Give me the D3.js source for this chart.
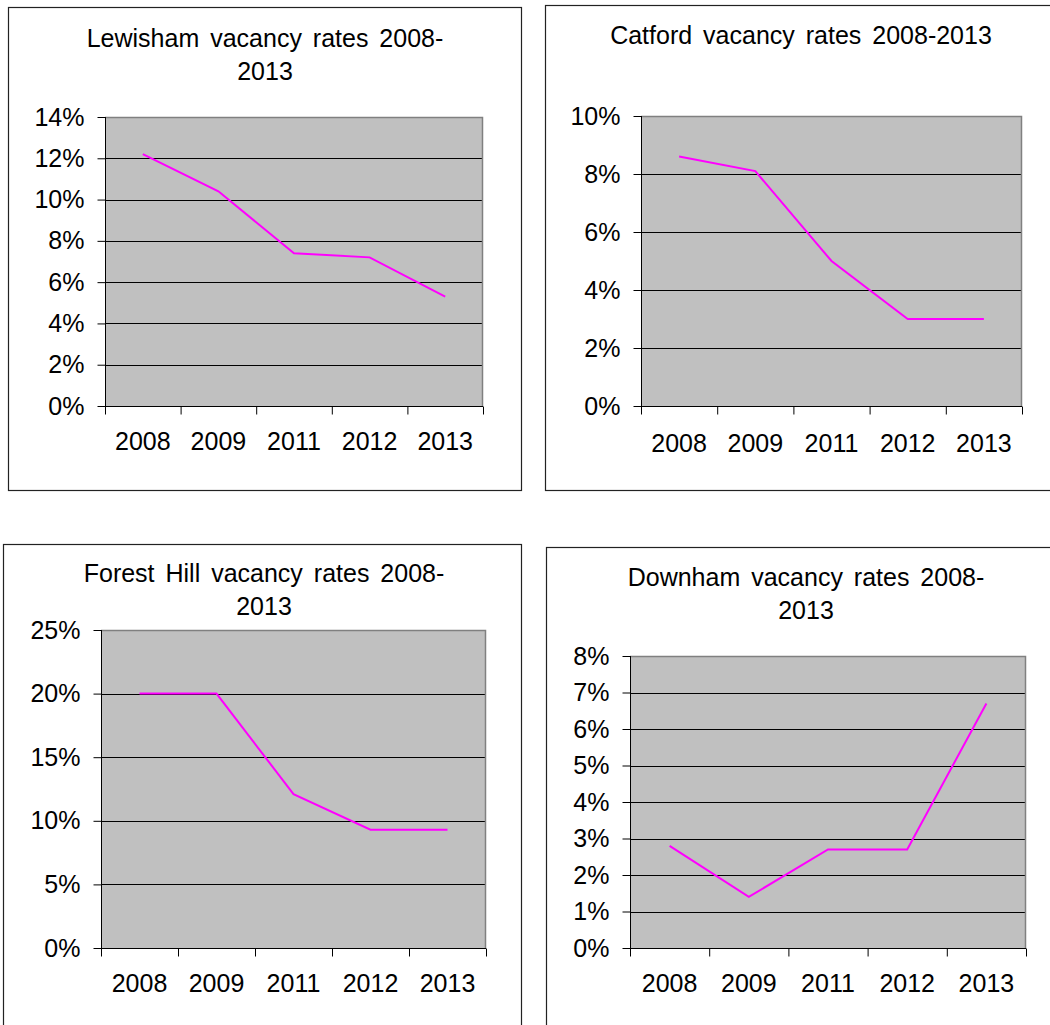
<!DOCTYPE html>
<html>
<head>
<meta charset="utf-8">
<script src="https://cdn.jsdelivr.net/npm/d3@7"></script>
<style>
  body { margin: 0; background: #fff; }
  svg { display: block; font-family: "Liberation Sans", Arial, sans-serif; }
</style>
</head>
<body>
<svg id="chart" width="1050" height="1025"></svg>
<script>
// data
const years = ['2008', '2009', '2011', '2012', '2013'];
const lewisham = [0.122, 0.104, 0.074, 0.072, 0.053];
const catford = [0.086, 0.081, 0.050, 0.030, 0.030];
const forestHill = [0.200, 0.200, 0.121, 0.093, 0.093];
const downham = [0.028, 0.014, 0.027, 0.027, 0.067];

const lewishamTicks = [0, 0.02, 0.04, 0.06, 0.08, 0.10, 0.12, 0.14];
const catfordTicks = [0, 0.02, 0.04, 0.06, 0.08, 0.10];
const forestHillTicks = [0, 0.05, 0.10, 0.15, 0.20, 0.25];
const downhamTicks = [0, 0.01, 0.02, 0.03, 0.04, 0.05, 0.06, 0.07, 0.08];

// layout of the four boxes
const panels = [
  {title: ['Lewisham vacancy rates 2008-', '2013'], values: lewisham, ticks: lewishamTicks,
   frame: [8, 7, 521, 490], plot: [105, 117, 483, 406], titleX: 265, titleY: 47, labelY: 450},
  {title: ['Catford vacancy rates 2008-2013'], values: catford, ticks: catfordTicks,
   frame: [545, 5, 1060, 490], plot: [641, 116, 1022, 406], titleX: 801, titleY: 44, labelY: 452},
  {title: ['Forest Hill vacancy rates 2008-', '2013'], values: forestHill, ticks: forestHillTicks,
   frame: [3, 544, 521, 1040], plot: [101, 630, 486, 948], titleX: 264, titleY: 582, labelY: 992},
  {title: ['Downham vacancy rates 2008-', '2013'], values: downham, ticks: downhamTicks,
   frame: [546, 547, 1060, 1040], plot: [630, 656, 1026, 948], titleX: 806, titleY: 586, labelY: 992}
];

const svg = d3.select('#chart');
const pct = d3.format('.0%');

panels.forEach(p => {
  const g = svg.append('g');
  const [fx0, fy0, fx1, fy1] = p.frame;
  const [x0, y0, x1, y1] = p.plot;

  g.append('rect')
    .attr('x', fx0 + 0.5).attr('y', fy0 + 0.5)
    .attr('width', fx1 - fx0).attr('height', fy1 - fy0)
    .attr('fill', '#fff')
    .attr('stroke', '#222')
    .attr('stroke-width', 1.2);

  g.selectAll('text.title')
    .data(p.title)
    .enter()
    .append('text')
    .attr('class', 'title')
    .attr('x', p.titleX)
    .attr('y', (d, i) => p.titleY + i * 33)
    .attr('text-anchor', 'middle')
    .style('font-size', '25px')
    .style('word-spacing', '4px')
    .text(d => d);

  const x = d3.scaleBand().domain(years).range([x0, x1]);
  const y = d3.scaleLinear().domain([0, p.ticks[p.ticks.length - 1]]).range([y1, y0]);

  g.append('rect')
    .attr('x', x0).attr('y', y0)
    .attr('width', x1 - x0).attr('height', y1 - y0)
    .attr('fill', '#c0c0c0');

  // grid lines
  g.selectAll('line.grid')
    .data(p.ticks.slice(1, -1))
    .enter()
    .append('line')
    .attr('x1', x0).attr('x2', x1)
    .attr('y1', d => Math.round(y(d)) + 0.5)
    .attr('y2', d => Math.round(y(d)) + 0.5)
    .attr('stroke', '#000');

  // gray top and right of the plot area
  g.append('path')
    .attr('d', `M${x0},${y0 + 0.5}H${x1 - 0.5}V${y1}`)
    .attr('fill', 'none')
    .attr('stroke', '#808080')
    .attr('stroke-width', 1.5);

  const yAxis = g.append('g')
    .attr('transform', `translate(${x0 + 0.5},0)`)
    .call(d3.axisLeft(y).tickValues(p.ticks).tickFormat(pct).tickSize(8).tickPadding(13));
  yAxis.selectAll('text').style('font-size', '25px').attr('fill', '#000');
  yAxis.selectAll('line, path').attr('stroke', '#000');
  yAxis.select('.domain').attr('d', `M0,${y0}V${y1}`);

  // x axis: ticks at band edges, labels centred in the bands
  const edges = years.map(d => x(d)).concat([x1]);
  const xAxis = g.append('g')
    .attr('transform', `translate(0,${y1 + 0.5})`)
    .call(d3.axisBottom(d3.scaleIdentity()).tickValues(edges).tickFormat('').tickSize(8));
  xAxis.selectAll('line, path').attr('stroke', '#000');
  xAxis.select('.domain').attr('d', `M${x0},0H${x1}`);

  g.selectAll('text.year')
    .data(years)
    .enter()
    .append('text')
    .attr('class', 'year')
    .attr('x', d => x(d) + x.bandwidth() / 2)
    .attr('y', p.labelY)
    .attr('text-anchor', 'middle')
    .style('font-size', '25px')
    .text(d => d);

  const line = d3.line()
    .x((d, i) => x(years[i]) + x.bandwidth() / 2)
    .y(d => y(d));

  g.append('path')
    .datum(p.values)
    .attr('d', line)
    .attr('fill', 'none')
    .attr('stroke', '#ff00ff')
    .attr('stroke-width', 2);
});
</script>
</body>
</html>
